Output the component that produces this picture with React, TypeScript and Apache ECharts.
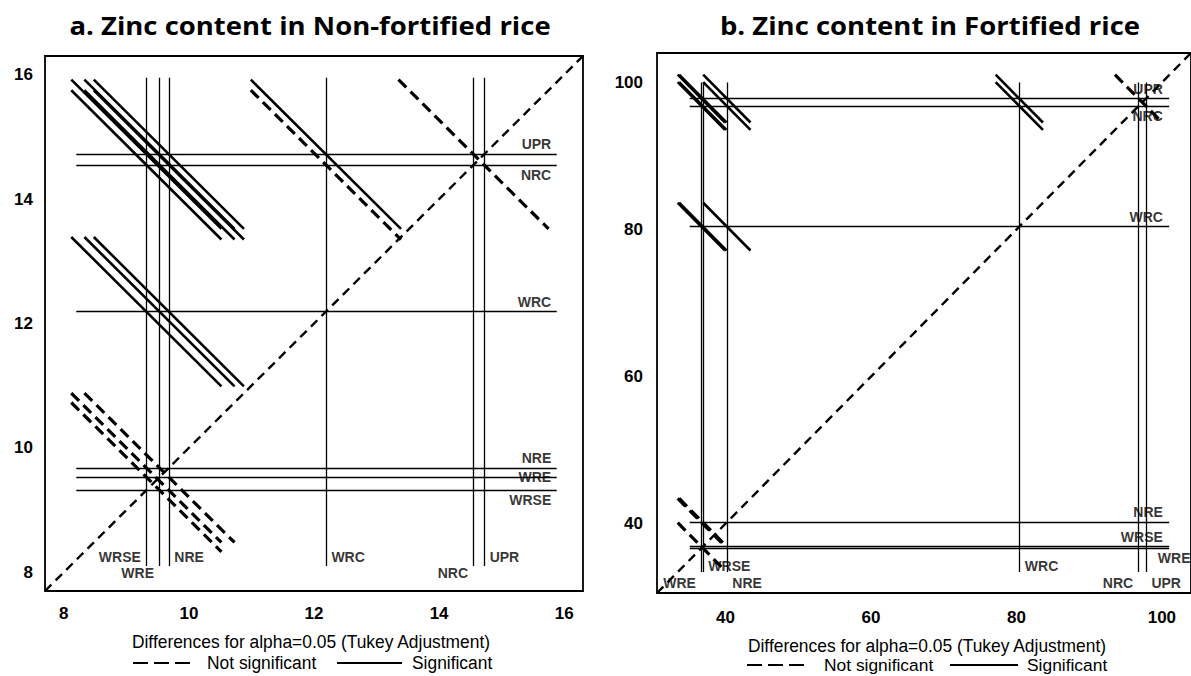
import React, { useEffect, useRef } from "react";
import * as echarts from "echarts";

// ---------- data ----------
const groups = ["WRSE", "WRE", "NRE", "WRC", "NRC", "UPR"];
const meansA = [9.32, 9.53, 9.68, 12.19, 14.55, 14.72];
const meansB = [36.9, 36.7, 40.2, 80.4, 96.8, 97.8];
const ciHalfA = 1.2;
const ciHalfB = 3.25;
const ticksA = [8, 10, 12, 14, 16];
const ticksB = [40, 60, 80, 100];
const titleA = "a. Zinc content in Non-fortified rice";
const titleB = "b. Zinc content in Fortified rice";
const caption = "Differences for alpha=0.05 (Tukey Adjustment)";
const legendNS = "Not significant";
const legendS = "Significant";

// label placement of each group's reference-line labels
const hPlaceA = ["below", "on", "above", "above", "below", "above"];
const vPlaceA = [["upper", "left"], ["lower", "left"], ["upper", "right"], ["upper", "right"], ["lower", "left"], ["upper", "right"]];
const hPlaceB = ["above", "belowFar", "above", "above", "below", "above"];
const vPlaceB = [["upper", "right"], ["lower", "left"], ["lower", "right"], ["upper", "right"], ["lower", "left"], ["lower", "right"]];

// ---------- layout ----------
const FONT = '"Liberation Sans", Arial, sans-serif';

type Panel = {
  means: number[];
  half: number;
  ticks: number[];
  hPlace: string[];
  vPlace: string[][];
  grid: { left: number; top: number; width: number; height: number };
  range: [number, number];
  vExt: [number, number];
  hExt: [number, number];
  labelRight: number;
  labelFar: number;
  rows: [number, number];
  labelMargin: [number, number];
};

const panels: Panel[] = [
  {
    means: meansA, half: ciHalfA, ticks: ticksA, hPlace: hPlaceA, vPlace: vPlaceA,
    grid: { left: 45, top: 56, width: 538, height: 535 },
    range: [7.7, 16.3], vExt: [8.1, 15.95], hExt: [8.2, 15.88],
    labelRight: 15.8, labelFar: 16.2, rows: [8.25, 7.99], labelMargin: [14, 12],
  },
  {
    means: meansB, half: ciHalfB, ticks: ticksB, hPlace: hPlaceB, vPlace: vPlaceB,
    grid: { left: 657, top: 53, width: 540, height: 540 },
    range: [30.6, 104], vExt: [33.45, 100], hExt: [35.1, 101],
    labelRight: 100.2, labelFar: 104, rows: [34.27, 31.96], labelMargin: [16, 14],
  },
];

function buildPanel(p: Panel, idx: number) {
  const refLines: any[] = [];
  p.means.forEach((m) => {
    refLines.push({ coords: [[m, p.vExt[0]], [m, p.vExt[1]]] });
    refLines.push({ coords: [[p.hExt[0], m], [p.hExt[1], m]] });
  });
  const segs: any[] = [];
  for (let i = 0; i < p.means.length; i++) {
    for (let j = i + 1; j < p.means.length; j++) {
      const lo = Math.min(p.means[i], p.means[j]);
      const hi = Math.max(p.means[i], p.means[j]);
      const sig = hi - lo > 2 * p.half;
      segs.push({
        coords: [[lo - p.half, hi + p.half], [lo + p.half, hi - p.half]],
        lineStyle: sig
          ? { type: "solid", width: 2.6, color: "#000" }
          : { type: [11, 6], width: 3.2, color: "#000" },
      });
    }
  }
  const labels: any[] = [];
  p.means.forEach((m, k) => {
    const hp = p.hPlace[k];
    const dy = hp === "above" ? -10 : hp === "on" ? 0 : 10;
    labels.push({
      name: groups[k],
      value: [hp === "belowFar" ? p.labelFar : p.labelRight, m],
      label: { position: "left", distance: 0, offset: [0, dy] },
    });
    const [row, side] = p.vPlace[k];
    labels.push({
      name: groups[k],
      value: [m, row === "upper" ? p.rows[0] : p.rows[1]],
      label: { position: side, distance: 5 },
    });
  });
  const base = { xAxisIndex: idx, yAxisIndex: idx };
  return [
    {
      ...base, type: "lines", coordinateSystem: "cartesian2d", silent: true, clip: false,
      lineStyle: { color: "#000", width: 1.3, opacity: 1 }, data: refLines, z: 2,
    },
    {
      ...base, type: "lines", coordinateSystem: "cartesian2d", silent: true, clip: false,
      lineStyle: { color: "#000", width: 2.4, type: [9, 6], opacity: 1 },
      data: [{ coords: [[p.range[0], p.range[0]], [p.range[1], p.range[1]]] }], z: 3,
    },
    {
      ...base, type: "lines", coordinateSystem: "cartesian2d", silent: true, clip: false,
      lineStyle: { opacity: 1 }, data: segs, z: 4,
    },
    {
      ...base, type: "scatter", symbolSize: 1, silent: true,
      itemStyle: { color: "rgba(0,0,0,0)" },
      label: {
        show: true, formatter: "{b}", color: "#000", fontFamily: FONT,
        fontWeight: "bold", fontSize: 14,
      },
      data: labels, z: 5,
    },
  ];
}

function txt(text: string, x: number, y: number, font: string, align = "center", scaleY = 1) {
  return {
    type: "text", x, y, scaleY,
    style: {
      text, font, fill: "#000",
      textAlign: align, align, textVerticalAlign: "middle", verticalAlign: "middle",
    },
  };
}
function seg(x1: number, x2: number, y: number, dash?: number[]) {
  return {
    type: "line",
    shape: { x1, y1: y, x2, y2: y },
    style: { stroke: "#000", lineWidth: 2, lineDash: dash || null },
  };
}

export default function App() {
  const ref = useRef<HTMLDivElement>(null);
  useEffect(() => {
    if (!ref.current) return;
    const chart = echarts.init(ref.current, null, { renderer: "svg" });
    const grids = panels.map((p) => ({
      ...p.grid, show: true, borderColor: "#000", borderWidth: 1.8,
      backgroundColor: "transparent", containLabel: false,
    }));
    const axisCommon = (p: Panel, gi: number, isX: boolean) => ({
      type: "value", gridIndex: gi, min: p.range[0], max: p.range[1],
      axisLine: { show: false }, axisTick: { show: false }, splitLine: { show: false },
      axisLabel: {
        customValues: p.ticks, color: "#000", fontFamily: FONT, fontSize: 17,
        fontWeight: "bold", margin: isX ? p.labelMargin[0] : p.labelMargin[1],
        showMinLabel: true, showMaxLabel: true,
      },
    });
    const series: any[] = [];
    panels.forEach((p, i) => series.push(...buildPanel(p, i)));
    const titleFont = 'bold 27.5px "Open Sans", sans-serif';
    const legFont = '17.4px ' + FONT;
    chart.setOption({
      animation: false,
      backgroundColor: "#fff",
      grid: grids,
      xAxis: panels.map((p, i) => axisCommon(p, i, true)),
      yAxis: panels.map((p, i) => axisCommon(p, i, false)),
      series,
      graphic: [
        txt(titleA, 310, 26, titleFont, "center", 0.9),
        txt(titleB, 930, 26, titleFont, "center", 0.9),
        txt(caption, 311, 642, legFont, "center", 1.05),
        seg(133, 190, 663, [15, 6]),
        txt(legendNS, 207, 663, legFont, "left", 1.05),
        seg(337, 402, 663),
        txt(legendS, 412, 663, legFont, "left", 1.05),
        txt(caption, 927, 646, legFont, "center", 1.05),
        seg(747, 809, 665, [15, 6]),
        txt(legendNS, 824, 665, legFont, "left"),
        seg(950, 1018, 665),
        txt(legendS, 1027, 665, legFont, "left"),
      ],
    });
    return () => chart.dispose();
  }, []);
  return (
    <div
      ref={ref}
      style={{ position: "absolute", left: 0, top: 0, width: 1191, height: 676, background: "#fff", overflow: "hidden" }}
    />
  );
}
